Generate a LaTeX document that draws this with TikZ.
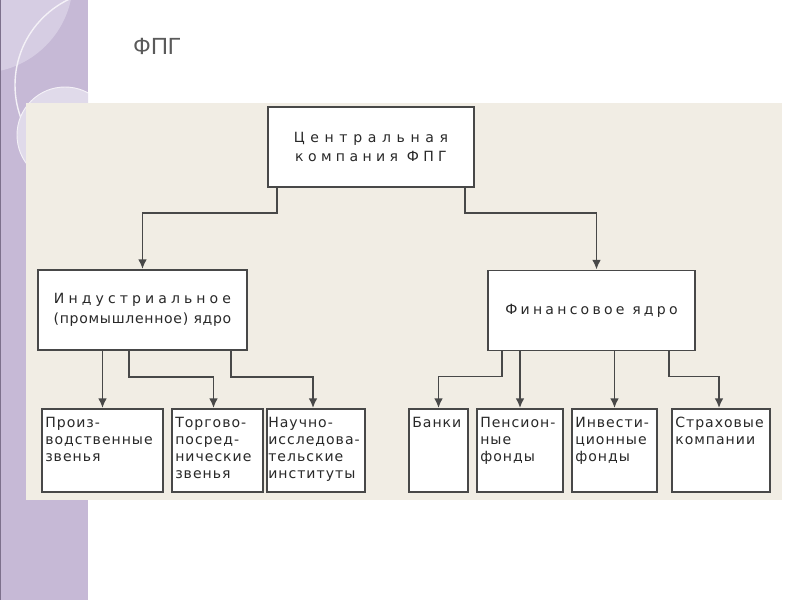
\documentclass[tikz,border=0pt]{standalone}
\usepackage{fontspec}
\setmainfont{DejaVu Sans}
\newfontfamily\titlefont{Liberation Sans}
\usetikzlibrary{arrows.meta,calc}
\definecolor{fpgInk}{RGB}{40,40,40}
\definecolor{fpgLine}{RGB}{72,72,72}
\definecolor{fpgPanel}{RGB}{241,237,228}
\definecolor{fpgStrip}{RGB}{198,185,214}
\definecolor{fpgLilac}{RGB}{214,205,227}
\definecolor{fpgMist}{RGB}{224,218,234}
\definecolor{fpgEdge}{RGB}{125,112,140}
\definecolor{fpgTitle}{RGB}{90,90,90}
\newcommand\lsp[2]{{\addfontfeature{LetterSpace=#1}#2}}

\begin{document}
\begin{tikzpicture}[x=0.3mm,y=-0.3mm,
      >={Latex[length=2.9mm,width=2.6mm]},
      hd/.style={rectangle,draw=fpgLine,fill=white,line width=1.6pt,inner sep=0pt,
                 minimum height=24mm,align=center,text=fpgInk,
                 font=\fontsize{12}{17}\selectfont\addfontfeature{LetterSpace=5}},
      bd/.style={rectangle,draw=fpgLine,fill=white,line width=1.6pt,inner sep=0pt,
                 minimum height=24.9mm},
      tx/.style={anchor=north west,inner xsep=1.2mm,inner ysep=2.6mm,align=left,text=fpgInk,
                 font=\fontsize{12}{14.5}\selectfont\addfontfeature{LetterSpace=7}},
      ar/.style={->,draw=fpgLine,line width=1.5pt}]
    \useasboundingbox (0,0) rectangle (800,600);

    \fill[fpgStrip] (0,0) rectangle (88,600);
    \begin{scope}
      \clip (0,0) rectangle (88,600);
      \fill[fpgLilac] (-20,-20) circle (93);
      \draw[white!80!fpgStrip,line width=1.2pt] (110,85) circle (95);
      \fill[fpgMist,draw=white!80!fpgStrip,line width=0.8pt] (65,135) circle (48);
    \end{scope}
    \draw[fpgEdge,line width=1pt] (0.5,0) -- (0.5,600);
    \fill[fpgPanel] (26,103) rectangle (782,500);

    \node[anchor=base west,inner sep=0pt,text=fpgTitle,
          font=\titlefont\fontsize{20}{24}\selectfont] (ttl) at (133,55) {ФПГ};

    \node[hd,minimum width=61.8mm] (cen) at (371,147) {\lsp{40}{Центральная}\\ \lsp{31}{компания ФПГ}};
    \node[hd,minimum width=62.7mm] (ind) at (142.5,310) {\lsp{29}{Индустриальное}\\ (промышленное) ядро};
    \node[hd,minimum width=62.1mm] (fin) at (591.5,310.5) {\lsp{23}{Финансовое ядро}};

    \node[bd,minimum width=36.3mm,label={[tx]north west:Произ-\\водственные\\звенья}] (prd) at (102.5,450.5) {};
    \node[bd,minimum width=27.3mm,label={[tx]north west:Торгово-\\посред-\\нические\\звенья}] (trg) at (217.5,450.5) {};
    \node[bd,minimum width=29.4mm,label={[tx,inner xsep=0.6mm]north west:Научно-\\исследова-\\тельские\\институты}] (nii) at (316,450.5) {};
    \node[bd,minimum width=17.7mm,label={[tx]north west:Банки}] (bnk) at (438.5,450.5) {};
    \node[bd,minimum width=25.8mm,label={[tx]north west:Пенсион-\\ные\\фонды}] (pns) at (520,450.5) {};
    \node[bd,minimum width=25.5mm,label={[tx]north west:Инвести-\\ционные\\фонды}] (inv) at (614.5,450.5) {};
    \node[bd,minimum width=29.4mm,label={[tx]north west:Страховые\\компании}] (str) at (721,450.5) {};

    \draw[ar] ($(cen.south west)+(10,0)$) -- ++(0,25) -| (ind.north);
    \draw[ar] ($(cen.south east)+(-10,0)$) -- ++(0,25) -| ($(fin.north)+(5,0)$);

    \draw[ar] (ind.south -| prd.north) -- (prd.north);
    \draw[ar] ($(ind.south)+(-13.5,0)$) -- ++(0,26) -| ($(trg.north)+(-4,0)$);
    \draw[ar] ($(ind.south)+(88.5,0)$) -- ++(0,26) -| ($(nii.north)+(-3,0)$);

    \draw[ar] ($(fin.south)+(-89.5,0)$) -- ++(0,25) -| (bnk.north);
    \draw[ar] (fin.south -| pns.north) -- (pns.north);
    \draw[ar] (fin.south -| inv.north) -- (inv.north);
    \draw[ar] ($(fin.south)+(77.5,0)$) -- ++(0,25) -| ($(str.north)+(-2,0)$);
  \end{tikzpicture}
\end{document}
